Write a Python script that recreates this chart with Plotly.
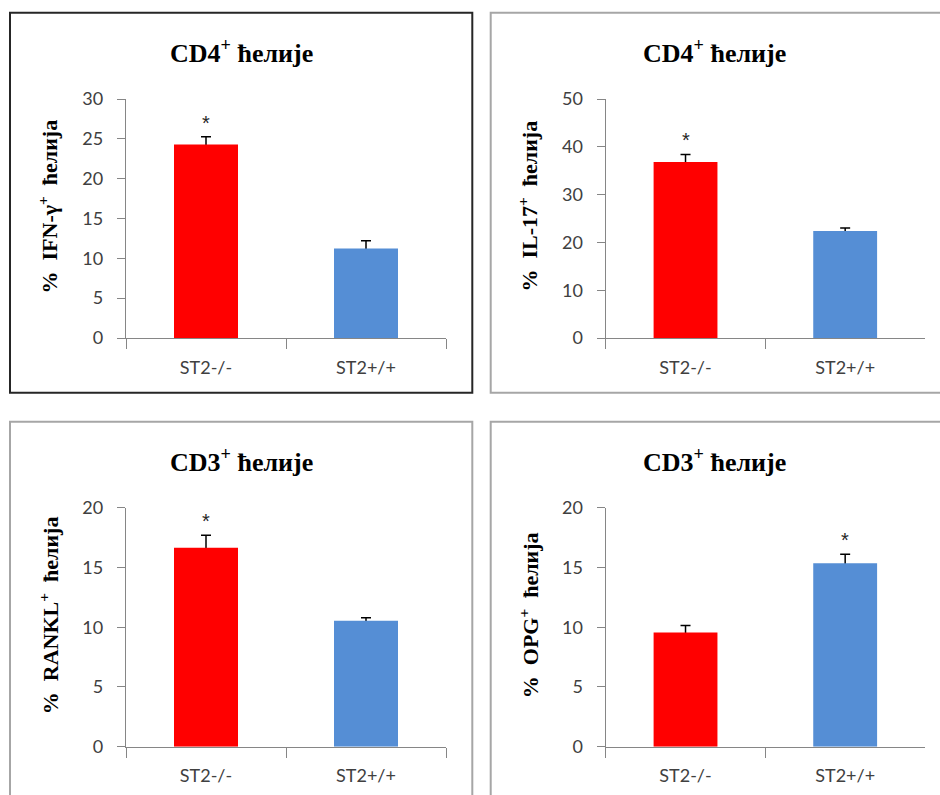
import plotly.graph_objects as go

# ---------------- data ----------------
categories = ["ST2-/-", "ST2+/+"]

ifn_mean = [24.3, 11.25]
ifn_err = [0.95, 0.95]
ifn_sig = [True, False]

il17_mean = [36.8, 22.4]
il17_err = [1.6, 0.6]
il17_sig = [True, False]

rankl_mean = [16.65, 10.55]
rankl_err = [1.05, 0.25]
rankl_sig = [True, False]

opg_mean = [9.55, 15.35]
opg_err = [0.6, 0.75]
opg_sig = [False, True]

panel_titles = ["CD4<sup>+</sup> ћелије", "CD4<sup>+</sup> ћелије",
                "CD3<sup>+</sup> ћелије", "CD3<sup>+</sup> ћелије"]
y_titles = ["%  IFN-γ<sup>+</sup>  ћелија", "%  IL-17<sup>+</sup>  ћелија",
            "%  RANKL<sup>+</sup>  ћелија", "%  OPG<sup>+</sup>  ћелија"]
y_max = [30, 50, 20, 20]
y_step = [5, 10, 5, 5]

# ---------------- layout geometry (pixels) ----------------
W, H = 940, 795
bar_colors = ["#FF0000", "#558ED5"]

plot_x = [(126, 446), (605.7, 925), (126, 446), (605.7, 925)]
plot_y = [(99, 338), (99, 338), (507.7, 746.7), (507.7, 746.7)]
boxes = [(10, 472.3, 12.7, 392.7, "#262626", 2),
         (490.7, 950, 12.7, 392.7, "#A6A6A6", 2),
         (10, 472.3, 421.7, 810, "#A6A6A6", 2),
         (490.7, 950, 421.7, 810, "#A6A6A6", 2)]
ytitle_x = [47, 527, 49, 529]

def px_x(v):
    return v / W

def px_y(v):
    return 1 - v / H

fig = go.Figure()

series = [(ifn_mean, ifn_err, ifn_sig), (il17_mean, il17_err, il17_sig),
          (rankl_mean, rankl_err, rankl_sig), (opg_mean, opg_err, opg_sig)]

tick_font = dict(family="Lato", size=18, color="#404040")

annotations = []
shapes = []
for i, (mean, err, sig) in enumerate(series):
    ax = "" if i == 0 else str(i + 1)
    ov = str(i + 5)  # overlay y axis so bars are drawn above the error bars
    # error bars (drawn first, lower half hidden by bars)
    fig.add_trace(go.Scatter(
        x=categories, y=mean, mode="markers",
        marker=dict(size=1, color="rgba(0,0,0,0)"),
        error_y=dict(type="data", array=err, symmetric=True,
                     color="#000000", thickness=1.5, width=5),
        xaxis="x" + ax, yaxis="y" + ax, showlegend=False, hoverinfo="skip",
    ))
    fig.add_trace(go.Bar(
        x=categories, y=mean,
        marker=dict(color=bar_colors, line=dict(width=0)),
        width=0.4,
        xaxis="x" + ax, yaxis="y" + ov, showlegend=False,
    ))
    x0, x1 = plot_x[i]
    y0, y1 = plot_y[i]
    fig.layout["xaxis" + ax] = dict(
        domain=[px_x(x0), px_x(x1)], anchor="y" + ax,
        type="category", range=[-0.5, 1.5],
        showline=True, linecolor="#868686", linewidth=1.3,
        ticks="outside", tickson="boundaries", ticklen=10, tickcolor="#868686",
        tickwidth=1.3, ticklabelstandoff=13, automargin=False,
        tickfont=tick_font,
        showgrid=False, zeroline=False, fixedrange=True,
    )
    fig.layout["yaxis" + ax] = dict(
        domain=[px_y(y1), px_y(y0)], anchor="x" + ax,
        range=[0, y_max[i]], dtick=y_step[i], tick0=0,
        showline=True, linecolor="#868686", linewidth=1.3,
        ticks="outside", ticklen=8, tickcolor="#868686", tickwidth=1.3,
        ticklabelstandoff=10, automargin=False,
        tickfont=tick_font,
        showgrid=False, zeroline=False, fixedrange=True,
    )
    fig.layout["yaxis" + ov] = dict(
        overlaying="y" + ax, anchor="x" + ax,
        range=[0, y_max[i]], visible=False,
        showgrid=False, zeroline=False, fixedrange=True,
    )
    # significance asterisks
    for j, s in enumerate(sig):
        if s:
            annotations.append(dict(
                x=categories[j], y=mean[j] + err[j], xref="x" + ax, yref="y" + ax,
                text="*", showarrow=False, yanchor="middle", yshift=14,
                font=dict(family="Liberation Sans", size=20, color="#262626"),
            ))
    # panel title
    bx0, bx1, by0, by1, bcol, bw = boxes[i]
    cx = (bx0 + min(bx1, 938)) / 2
    annotations.append(dict(
        x=px_x(cx), y=px_y(y0 - 47), xref="paper", yref="paper",
        text="<b>" + panel_titles[i] + "</b>", showarrow=False,
        xanchor="center", yanchor="middle",
        font=dict(family="Liberation Serif", size=26, color="#000000"),
    ))
    # y-axis title
    annotations.append(dict(
        x=px_x(ytitle_x[i]), y=px_y((y0 + y1) / 2 - 12), xref="paper", yref="paper",
        text="<b>" + y_titles[i] + "</b>", showarrow=False, textangle=-90,
        xanchor="center", yanchor="middle",
        font=dict(family="Liberation Serif", size=22, color="#000000"),
    ))
    shapes.append(dict(
        type="rect", xref="paper", yref="paper",
        x0=px_x(bx0), x1=px_x(bx1), y0=px_y(by1), y1=px_y(by0),
        line=dict(color=bcol, width=bw), fillcolor="rgba(0,0,0,0)", layer="below",
    ))

fig.update_layout(
    width=W, height=H,
    margin=dict(l=0, r=0, t=0, b=0, autoexpand=False),
    paper_bgcolor="#FFFFFF", plot_bgcolor="#FFFFFF",
    annotations=annotations, shapes=shapes,
    bargap=0.6,
)

fig.write_html(
    "out.html",
    config={"displayModeBar": False},
    post_script=("document.documentElement.style.margin='0';"
                 "document.documentElement.style.overflow='hidden';"
                 "document.body.style.margin='0';"
                 "document.body.style.padding='0';"
                 "document.body.style.overflow='hidden';"),
)
